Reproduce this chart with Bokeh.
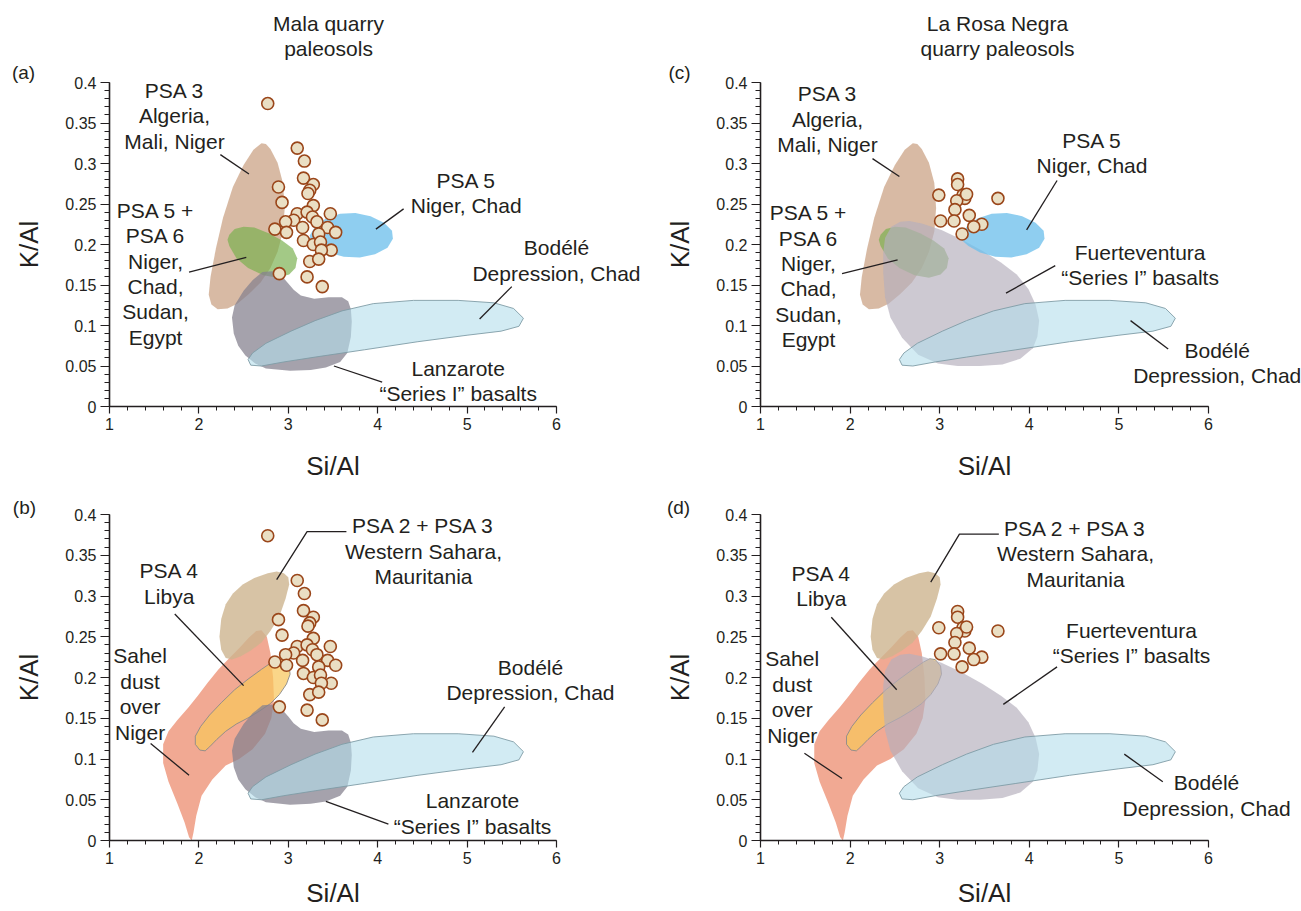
from bokeh.plotting import figure
from bokeh.models import Range1d, FixedTicker, Label
from bokeh.layouts import column, row
from bokeh.embed import file_html
from bokeh.resources import INLINE

FONT = "Liberation Sans"
TXT = "#231F20"

# ---------------- data ----------------
x_ticks = [1, 2, 3, 4, 5, 6]
x_tick_labels = ["1", "2", "3", "4", "5", "6"]
y_ticks = [0, 0.05, 0.1, 0.15, 0.2, 0.25, 0.3, 0.35, 0.4]
y_tick_labels = ["0", "0.05", "0.1", "0.15", "0.2", "0.25", "0.3", "0.35", "0.4"]

# Mala quarry paleosols (panels a, b)
mala_si = [2.77, 3.10, 3.18, 3.17, 3.28, 3.24, 3.22, 2.89, 2.93, 3.28, 3.10, 3.21, 3.47,
           3.06, 2.97, 3.27, 3.32, 2.85, 2.98, 3.16, 3.44, 3.53, 3.34, 3.17, 3.28, 3.36,
           3.48, 3.37, 3.24, 3.34, 2.90, 3.21, 3.38]
mala_k = [0.374, 0.319, 0.303, 0.282, 0.274, 0.267, 0.263, 0.271, 0.252, 0.248, 0.238,
          0.240, 0.238, 0.230, 0.228, 0.234, 0.228, 0.219, 0.215, 0.221, 0.221, 0.215,
          0.213, 0.205, 0.200, 0.203, 0.193, 0.193, 0.179, 0.182, 0.164, 0.160, 0.148]

# La Rosa Negra quarry paleosols (panels c, d)
lrn_si = [3.20, 3.20, 2.99, 3.26, 3.28, 3.19, 3.65, 3.17, 3.33, 3.01, 3.16, 3.47, 3.38, 3.25, 3.30]
lrn_k = [0.281, 0.274, 0.261, 0.261, 0.257, 0.254, 0.257, 0.243, 0.236, 0.229, 0.229,
         0.225, 0.222, 0.213, 0.262]

# source-area outlines (Si/Al, K/Al)
psa3_x = [2.70, 2.61, 2.50, 2.38, 2.27, 2.19, 2.13, 2.11, 2.14, 2.21, 2.32, 2.43, 2.56, 2.69,
          2.80, 2.88, 2.94, 2.96, 2.94, 2.88, 2.80, 2.75]
psa3_y = [0.325, 0.317, 0.298, 0.271, 0.233, 0.195, 0.160, 0.138, 0.126, 0.120, 0.121, 0.127,
          0.139, 0.153, 0.171, 0.191, 0.216, 0.245, 0.276, 0.301, 0.318, 0.324]

psa56_x = [2.34, 2.40, 2.50, 2.62, 2.78, 2.93, 3.05, 3.10, 3.08, 3.01, 2.88, 2.72, 2.55, 2.42,
           2.34, 2.32]
psa56_y = [0.212, 0.219, 0.222, 0.221, 0.214, 0.205, 0.195, 0.183, 0.171, 0.163, 0.159, 0.162,
           0.171, 0.183, 0.198, 0.206]

psa5_x = [3.24, 3.30, 3.42, 3.58, 3.75, 3.92, 4.07, 4.16, 4.17, 4.11, 3.97, 3.80, 3.62, 3.45,
          3.32, 3.25]
psa5_y = [0.211, 0.222, 0.232, 0.238, 0.239, 0.235, 0.227, 0.217, 0.207, 0.196, 0.188, 0.184,
          0.185, 0.190, 0.198, 0.205]

bodele_x = [2.55, 2.60, 2.75, 3.03, 3.30, 3.60, 3.95, 4.40, 4.90, 5.30, 5.52, 5.63, 5.58, 5.38,
            5.00, 4.45, 3.85, 3.30, 2.95, 2.70, 2.58]
bodele_y = [0.058, 0.066, 0.078, 0.093, 0.106, 0.118, 0.127, 0.131, 0.131, 0.128, 0.121, 0.109,
            0.099, 0.093, 0.088, 0.080, 0.070, 0.061, 0.055, 0.050, 0.051]

lanz_x = [2.71, 2.60, 2.50, 2.40, 2.37, 2.39, 2.44, 2.52, 2.63, 2.75, 3.02, 3.25, 3.42, 3.58,
          3.66, 3.70, 3.71, 3.70, 3.67, 3.60, 3.45, 3.29, 3.14, 3.06, 3.00, 2.92, 2.82]
lanz_y = [0.166, 0.156, 0.143, 0.125, 0.110, 0.090, 0.075, 0.063, 0.053, 0.047, 0.044, 0.045,
          0.048, 0.055, 0.066, 0.086, 0.105, 0.120, 0.130, 0.135, 0.135, 0.133, 0.137, 0.144,
          0.152, 0.162, 0.167]

fuert_x = [2.46, 2.56, 2.66, 2.80, 3.02, 3.25, 3.48, 3.68, 3.86, 3.99, 4.07, 4.11, 4.09, 4.04,
           3.90, 3.70, 3.45, 3.20, 2.98, 2.76, 2.58, 2.45, 2.39, 2.37, 2.37, 2.39]
fuert_y = [0.222, 0.228, 0.229, 0.226, 0.218, 0.206, 0.192, 0.178, 0.163, 0.145, 0.126, 0.106,
           0.086, 0.072, 0.059, 0.052, 0.050, 0.050, 0.053, 0.064, 0.085, 0.110, 0.135, 0.165,
           0.190, 0.208]

psa23_x = [3.00, 2.95, 2.87, 2.77, 2.62, 2.49, 2.38, 2.30, 2.25, 2.23, 2.25, 2.30, 2.37, 2.47,
           2.58, 2.70, 2.80, 2.90, 2.97, 3.01]
psa23_y = [0.323, 0.328, 0.330, 0.328, 0.322, 0.314, 0.303, 0.290, 0.272, 0.250, 0.234, 0.224,
           0.222, 0.226, 0.233, 0.243, 0.257, 0.275, 0.297, 0.314]

sahel_x = [2.70, 2.76, 2.80, 2.83, 2.84, 2.81, 2.74, 2.60, 2.45, 2.30, 2.15, 2.03, 1.97, 1.94,
           1.92, 1.89, 1.84, 1.76, 1.66, 1.60, 1.60, 1.66, 1.76, 1.88, 1.99, 2.10, 2.22, 2.35,
           2.46, 2.56, 2.64]
sahel_y = [0.258, 0.250, 0.230, 0.200, 0.172, 0.150, 0.131, 0.112, 0.100, 0.092, 0.075, 0.055,
           0.030, 0.010, 0.000, 0.004, 0.022, 0.045, 0.072, 0.095, 0.118, 0.134, 0.148, 0.163,
           0.178, 0.194, 0.210, 0.225, 0.237, 0.249, 0.257]

psa4_x = [2.95, 3.01, 3.02, 2.98, 2.90, 2.80, 2.68, 2.56, 2.42, 2.30, 2.20, 2.12, 2.07, 2.01,
          1.96, 1.96, 2.02, 2.12, 2.25, 2.40, 2.55, 2.70, 2.82, 2.89]
psa4_y = [0.222, 0.214, 0.204, 0.192, 0.179, 0.168, 0.159, 0.151, 0.143, 0.134, 0.124, 0.115,
          0.110, 0.111, 0.118, 0.128, 0.140, 0.154, 0.169, 0.185, 0.198, 0.210, 0.219, 0.223]

# ---------------- styles ----------------
STY = {
    "psa3": dict(fill_color="#CDA78B", fill_alpha=0.78, line_color=None),
    "psa56": dict(fill_color="#77B04C", fill_alpha=0.68, line_color=None),
    "psa5": dict(fill_color="#6FC0EC", fill_alpha=0.78, line_color=None),
    "bodele": dict(fill_color="#B4DEEB", fill_alpha=0.6, line_color="#7F9CA6", line_width=0.9),
    "lanz": dict(fill_color="#85818F", fill_alpha=0.74, line_color=None),
    "fuert": dict(fill_color="#B5AFBD", fill_alpha=0.68, line_color=None),
    "psa23": dict(fill_color="#CDB48E", fill_alpha=0.8, line_color=None),
    "sahel": dict(fill_color="#EC8869", fill_alpha=0.72, line_color=None),
    "psa4": dict(fill_color="#F8C65B", fill_alpha=0.72, line_color="#8A8A8A", line_width=0.9),
}
SHAPES = {
    "psa3": (psa3_x, psa3_y), "psa56": (psa56_x, psa56_y), "psa5": (psa5_x, psa5_y),
    "bodele": (bodele_x, bodele_y), "lanz": (lanz_x, lanz_y), "fuert": (fuert_x, fuert_y),
    "psa23": (psa23_x, psa23_y), "sahel": (sahel_x, sahel_y), "psa4": (psa4_x, psa4_y),
}

DY = 0.0313
LBL = "21px"


def make_fig(width, height, x0, y0, sx, sy, xlabel_standoff):
    """Frame covers the whole canvas; axes sit at fixed data locations.
    x0/y0: pixel position of (Si/Al=1, K/Al=0); sx/sy: pixels per data unit."""
    xs = 1 - x0 / sx
    ye = y0 / sy
    p = figure(width=width, height=height,
               x_range=Range1d(xs, xs + width / sx), y_range=Range1d(ye - height / sy, ye),
               output_backend="svg", toolbar_location=None,
               min_border_left=0, min_border_right=0, min_border_top=0, min_border_bottom=0)
    p.grid.visible = False
    p.outline_line_color = None
    p.background_fill_color = "white"
    p.border_fill_color = "white"
    xa, ya = p.xaxis[0], p.yaxis[0]
    xa.fixed_location = 0
    ya.fixed_location = 1
    xa.bounds = (1, 6)
    ya.bounds = (0, 0.4)
    xa.ticker = FixedTicker(ticks=x_ticks, minor_ticks=[1 + 0.2 * i for i in range(26)])
    ya.ticker = FixedTicker(ticks=y_ticks, minor_ticks=[0.01 * i for i in range(41)])
    xa.major_label_overrides = dict(zip(x_ticks, x_tick_labels))
    ya.major_label_overrides = dict(zip(y_ticks, y_tick_labels))
    for ax in (xa, ya):
        ax.axis_line_width = 1.6
        ax.axis_line_color = "#231F20"
        ax.major_tick_line_color = "#231F20"
        ax.minor_tick_line_color = "#231F20"
        ax.major_tick_line_width = 1.2
        ax.minor_tick_line_width = 1.0
        ax.major_tick_in = 0
        ax.minor_tick_in = 0
        ax.major_label_text_font = FONT
        ax.major_label_text_font_size = "16px"
        ax.major_label_text_color = TXT
        ax.axis_label_text_font = FONT
        ax.axis_label_text_font_size = "26px"
        ax.axis_label_text_font_style = "normal"
        ax.axis_label_text_color = TXT
        ax.major_label_standoff = 4
    xa.major_tick_out = 7
    xa.minor_tick_out = 4
    ya.major_tick_out = 9
    ya.minor_tick_out = 5
    xa.axis_label = "Si/Al"
    ya.axis_label = "K/Al"
    xa.axis_label_standoff = xlabel_standoff
    ya.axis_label_standoff = 18
    return p


def add_text(p, x, y, lines, size=LBL):
    for i, t in enumerate(lines):
        p.add_layout(Label(x=x, y=y - i * DY, text=t, text_align="center",
                           text_baseline="middle", text_font=FONT, text_font_size=size,
                           text_color=TXT))


def add_shapes(p, names):
    for n in names:
        xs, ys = SHAPES[n]
        p.patch(xs, ys, **STY[n])


def add_leaders(p, segs):
    p.multi_line([[a[0] for a in s] for s in segs], [[a[1] for a in s] for s in segs],
                 line_color="#231F20", line_width=1.3)


def add_points(p, xs, ys):
    p.scatter(xs, ys, marker="circle", size=12, fill_color="#EADFC4",
              line_color="#9A461A", line_width=1.6)


SERIES_I = "\u201cSeries I\u201d basalts"

# ---- panel (a)
pa = make_fig(650, 480, 109, 406, 89.4, 810, 18)
add_shapes(pa, ["psa3", "psa56", "psa5", "lanz", "bodele"])
add_leaders(pa, [[(2.24, 0.311), (2.56, 0.287)], [(1.89, 0.166), (2.53, 0.184)],
                 [(4.29, 0.244), (3.98, 0.219)], [(5.50, 0.148), (5.14, 0.108)],
                 [(4.05, 0.030), (3.51, 0.050)]])
add_points(pa, mala_si, mala_k)
add_text(pa, 1.727, 0.390, ["PSA 3", "Algeria,", "Mali, Niger"])
add_text(pa, 1.515, 0.242, ["PSA 5 +", "PSA 6", "Niger,", "Chad,", "Sudan,", "Egypt"])
add_text(pa, 4.99, 0.279, ["PSA 5", "Niger, Chad"])
add_text(pa, 6.0, 0.196, ["Bod\u00e9l\u00e9", "Depression, Chad"])
add_text(pa, 4.90, 0.047, ["Lanzarote", SERIES_I])
add_text(pa, 3.45, 0.473, ["Mala quarry", "paleosols"])
add_text(pa, 0.038, 0.4127, ["(a)"], size="19px")

# ---- panel (c)
pc = make_fig(651, 480, 110, 406, 89.6, 810, 18)
add_shapes(pc, ["psa3", "psa56", "fuert", "psa5", "bodele"])
add_leaders(pc, [[(2.25, 0.306), (2.55, 0.284)], [(1.91, 0.164), (2.53, 0.181)],
                 [(4.31, 0.279), (3.97, 0.218)], [(4.29, 0.174), (3.74, 0.140)],
                 [(5.13, 0.106), (5.55, 0.071)]])
add_points(pc, lrn_si, lrn_k)
add_text(pc, 1.748, 0.386, ["PSA 3", "Algeria,", "Mali, Niger"])
add_text(pc, 1.536, 0.239, ["PSA 5 +", "PSA 6", "Niger,", "Chad,", "Sudan,", "Egypt"])
add_text(pc, 4.70, 0.329, ["PSA 5", "Niger, Chad"])
add_text(pc, 5.237, 0.190, ["Fuerteventura", SERIES_I])
add_text(pc, 6.097, 0.069, ["Bod\u00e9l\u00e9", "Depression, Chad"])
add_text(pc, 3.645, 0.473, ["La Rosa Negra", "quarry paleosols"])
add_text(pc, 0.096, 0.4127, ["(c)"], size="19px")

# ---- panel (b)
pb = make_fig(650, 431, 109, 360, 89.4, 815, 11)
add_shapes(pb, ["sahel", "psa23", "psa4", "lanz", "bodele"])
add_leaders(pb, [[(3.65, 0.379), (3.21, 0.379), (2.87, 0.320)], [(1.73, 0.278), (2.50, 0.190)],
                 [(1.46, 0.119), (1.89, 0.080)], [(5.42, 0.164), (5.06, 0.108)],
                 [(4.12, 0.020), (3.42, 0.048)]])
add_points(pb, mala_si, mala_k)
add_text(pb, 4.512, 0.3865, ["PSA 2 + PSA 3", "Western Sahara,", "Mauritania"])
add_text(pb, 1.668, 0.331, ["PSA 4", "Libya"])
add_text(pb, 1.342, 0.227, ["Sahel", "dust", "over", "Niger"])
add_text(pb, 5.709, 0.2126, ["Bod\u00e9l\u00e9", "Depression, Chad"])
add_text(pb, 5.06, 0.049, ["Lanzarote", SERIES_I])
add_text(pb, 0.049, 0.408, ["(b)"], size="19px")

# ---- panel (d)
pd_ = make_fig(651, 431, 110, 360, 89.6, 815, 11)
add_shapes(pd_, ["sahel", "psa23", "psa4", "fuert", "bodele"])
add_leaders(pd_, [[(3.66, 0.376), (3.22, 0.376), (2.90, 0.317)], [(1.79, 0.274), (2.52, 0.185)],
                  [(1.49, 0.107), (1.91, 0.076)], [(4.31, 0.213), (3.71, 0.167)],
                  [(5.06, 0.106), (5.49, 0.072)]])
add_points(pd_, lrn_si, lrn_k)
add_text(pd_, 4.516, 0.383, ["PSA 2 + PSA 3", "Western Sahara,", "Mauritania"])
add_text(pd_, 1.679, 0.328, ["PSA 4", "Libya"])
add_text(pd_, 1.354, 0.223, ["Sahel", "dust", "over", "Niger"])
add_text(pd_, 5.14, 0.2577, ["Fuerteventura", SERIES_I])
add_text(pd_, 5.978, 0.0708, ["Bod\u00e9l\u00e9", "Depression, Chad"])
add_text(pd_, 0.085, 0.4086, ["(d)"], size="19px")

layout = column(row(pa, pc), row(pb, pd_))
open("out.html", "w").write(file_html(layout, INLINE))
